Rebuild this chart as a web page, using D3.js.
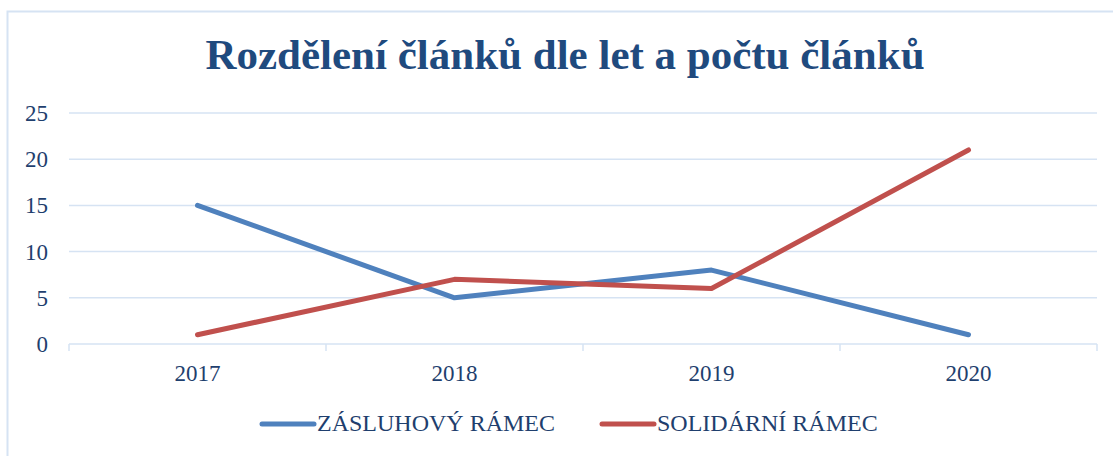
<!DOCTYPE html>
<html>
<head>
<meta charset="utf-8">
<script src="https://cdn.jsdelivr.net/npm/d3@7"></script>
<style>
  body { margin: 0; background: #fff; }
  text { font-family: "Liberation Serif", "Times New Roman", serif; }
</style>
</head>
<body>
<script>
'use strict';

var years = ['2017', '2018', '2019', '2020'];
var zasluhovy = [15, 5, 8, 1];
var solidarni = [1, 7, 6, 21];
var yTicks = [0, 5, 10, 15, 20, 25];
var seriesNames = ['ZÁSLUHOVÝ RÁMEC', 'SOLIDÁRNÍ RÁMEC'];
var seriesColors = ['#4f81bd', '#c0504d'];

var width = 1113;
var height = 456;
var textColor = '#1f3f6e';
var gridColor = '#d6e3f3';

var svg = d3.select('body').append('svg')
    .attr('width', width)
    .attr('height', height);

// outer frame, cropped on the right and bottom like the screenshot
svg.append('rect')
    .attr('x', 7.5).attr('y', 11.5)
    .attr('width', 1130).attr('height', 470)
    .attr('fill', 'none')
    .attr('stroke', gridColor)
    .attr('stroke-width', 2);

svg.append('text')
    .attr('x', 565)
    .attr('y', 69)
    .attr('text-anchor', 'middle')
    .attr('font-size', 43)
    .attr('font-weight', 'bold')
    .attr('fill', '#1f4a7e')
    .text('Rozdělení článků dle let a počtu článků');

var x = d3.scaleBand().domain(years).range([69, 1097]);
var y = d3.scaleLinear().domain([0, 25]).range([344, 113]);

// gridlines
svg.append('g')
    .selectAll('line')
    .data(yTicks)
    .enter().append('line')
    .attr('x1', 69).attr('x2', 1097)
    .attr('y1', function(d) { return y(d); })
    .attr('y2', function(d) { return y(d); })
    .attr('stroke', gridColor)
    .attr('stroke-width', 1.5);

// y labels
svg.append('g')
    .selectAll('text')
    .data(yTicks)
    .enter().append('text')
    .attr('x', 48)
    .attr('y', function(d) { return y(d) + 8; })
    .attr('text-anchor', 'end')
    .attr('font-size', 23)
    .attr('fill', textColor)
    .text(function(d) { return d; });

// x tick marks on band boundaries
var bounds = years.map(function(d) { return x(d); }).concat([x.range()[1]]);
svg.append('g')
    .selectAll('line')
    .data(bounds)
    .enter().append('line')
    .attr('x1', function(d) { return d; })
    .attr('x2', function(d) { return d; })
    .attr('y1', 344).attr('y2', 351)
    .attr('stroke', gridColor)
    .attr('stroke-width', 1.5);

// x labels
svg.append('g')
    .selectAll('text')
    .data(years)
    .enter().append('text')
    .attr('x', function(d) { return x(d) + x.bandwidth() / 2; })
    .attr('y', 381)
    .attr('text-anchor', 'middle')
    .attr('font-size', 23)
    .attr('fill', textColor)
    .text(function(d) { return d; });

var line = d3.line()
    .x(function(d, i) { return x(years[i]) + x.bandwidth() / 2; })
    .y(function(d) { return y(d); });

[zasluhovy, solidarni].forEach(function(values, i) {
    svg.append('path')
        .datum(values)
        .attr('d', line)
        .attr('fill', 'none')
        .attr('stroke', seriesColors[i])
        .attr('stroke-width', 5)
        .attr('stroke-linecap', 'round')
        .attr('stroke-linejoin', 'round');
});

// legend
var legendX = [262, 602];
seriesNames.forEach(function(name, i) {
    var g = svg.append('g').attr('transform', 'translate(' + legendX[i] + ',424)');
    g.append('line')
        .attr('x1', 0).attr('x2', 52)
        .attr('stroke', seriesColors[i])
        .attr('stroke-width', 5)
        .attr('stroke-linecap', 'round');
    g.append('text')
        .attr('x', 55)
        .attr('y', 7)
        .attr('font-size', 24)
        .attr('fill', textColor)
        .text(name);
});
</script>
</body>
</html>
